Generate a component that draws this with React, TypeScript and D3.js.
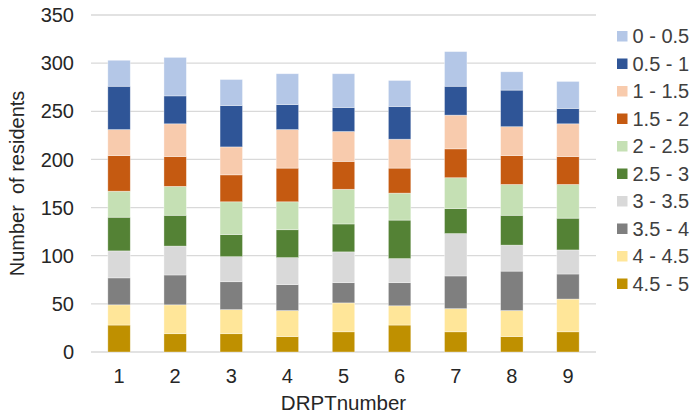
import React, { useEffect, useRef } from "react";
import * as d3 from "d3";

// DRPT numbers along the x axis
const categories = ["1", "2", "3", "4", "5", "6", "7", "8", "9"];

// Score bands, listed top of the stack first (legend order)
const bands = ["0 - 0.5", "0.5 - 1", "1 - 1.5", "1.5 - 2", "2 - 2.5", "2.5 - 3", "3 - 3.5", "3.5 - 4", "4 - 4.5", "4.5 - 5"];

// Residents per band, one value per DRPT number
const band0to05 = [27, 40, 27, 32, 35, 27, 36, 19, 28];
const band05to1 = [45, 29, 43, 26, 25, 34, 30, 38, 16];
const band1to15 = [27, 34, 29, 40, 31, 30, 35, 30, 34];
const band15to2 = [37, 31, 28, 35, 29, 26, 30, 30, 29];
const band2to25 = [27, 30, 34, 29, 36, 28, 32, 32, 35];
const band25to3 = [35, 32, 23, 29, 29, 40, 26, 31, 33];
const band3to35 = [28, 30, 26, 28, 32, 25, 44, 27, 25];
const band35to4 = [28, 31, 29, 27, 21, 24, 34, 41, 26];
const band4to45 = [21, 30, 25, 27, 30, 20, 24, 27, 34];
const band45to5 = [28, 19, 19, 16, 21, 28, 21, 16, 21];

const yTicks = [0, 50, 100, 150, 200, 250, 300, 350];

const colors = ["#B4C7E7", "#2F5597", "#F8CBAD", "#C55A11", "#C5E0B4", "#548235", "#D9D9D9", "#7F7F7F", "#FFE699", "#BF9000"];

const seriesValues = [band0to05, band05to1, band1to15, band15to2, band2to25, band25to3, band3to35, band35to4, band4to45, band45to5];

const W = 691;
const H = 417;
const FONT = "'Liberation Sans', Arial, sans-serif";

export default function App() {
  const ref = useRef<SVGSVGElement>(null);

  useEffect(() => {
    const svg = d3.select(ref.current);
    svg.selectAll("*").remove();

    const left = 91, right = 596, top = 15, bottom = 352;

    const rows = categories.map((c, i) => {
      const r: Record<string, any> = { cat: c };
      bands.forEach((b, j) => (r[b] = seriesValues[j][i]));
      return r;
    });

    // stack from the bottom band (4.5 - 5) upward
    const stackKeys = bands.slice().reverse();
    const stacked = d3.stack<any>().keys(stackKeys)(rows);

    const x = d3.scaleBand().domain(categories).range([left, right]).paddingInner(0.6).paddingOuter(0.3);
    const y = d3.scaleLinear().domain([0, 350]).range([bottom, top]);

    // gridlines
    svg.append("g")
      .selectAll("line")
      .data(yTicks)
      .join("line")
      .attr("x1", left)
      .attr("x2", right)
      .attr("y1", (d) => y(d))
      .attr("y2", (d) => y(d))
      .attr("stroke", "#D9D9D9")
      .attr("stroke-width", 1.3);

    // y tick labels
    svg.append("g")
      .selectAll("text")
      .data(yTicks)
      .join("text")
      .attr("x", 74)
      .attr("y", (d) => y(d))
      .attr("dy", "0.36em")
      .attr("text-anchor", "end")
      .attr("font-family", FONT)
      .attr("font-size", 20)
      .attr("fill", "#262626")
      .text((d) => String(d));

    // stacked bars
    svg.append("g")
      .selectAll("g")
      .data(stacked)
      .join("g")
      .attr("fill", (s) => colors[bands.indexOf(s.key)])
      .selectAll("rect")
      .data((s) => s)
      .join("rect")
      .attr("x", (d: any) => x(d.data.cat)!)
      .attr("width", x.bandwidth())
      .attr("y", (d) => y(d[1]))
      .attr("height", (d) => y(d[0]) - y(d[1]))
      .attr("stroke", "#ffffff")
      .attr("stroke-opacity", 0.5)
      .attr("stroke-width", 0.7);

    // x tick labels
    svg.append("g")
      .selectAll("text")
      .data(categories)
      .join("text")
      .attr("x", (d) => x(d)! + x.bandwidth() / 2)
      .attr("y", 383)
      .attr("text-anchor", "middle")
      .attr("font-family", FONT)
      .attr("font-size", 20)
      .attr("fill", "#262626")
      .text((d) => d);

    // axis titles
    svg.append("text")
      .attr("x", (left + right) / 2)
      .attr("y", 410)
      .attr("text-anchor", "middle")
      .attr("font-family", FONT)
      .attr("font-size", 20.5)
      .attr("fill", "#262626")
      .text("DRPTnumber");

    svg.append("text")
      .attr("transform", `translate(24, ${(top + bottom) / 2}) rotate(-90)`)
      .attr("text-anchor", "middle")
      .attr("font-family", FONT)
      .attr("font-size", 20)
      .attr("fill", "#262626")
      .attr("xml:space", "preserve")
      .style("white-space", "pre")
      .text("Number  of residents");

    // legend
    const legend = svg.append("g")
      .selectAll("g")
      .data(bands)
      .join("g")
      .attr("transform", (_, i) => `translate(617, ${36 + i * 27.5})`);

    legend.append("rect")
      .attr("x", 0)
      .attr("y", -5)
      .attr("width", 10.5)
      .attr("height", 10.5)
      .attr("fill", (_, i) => colors[i]);

    legend.append("text")
      .attr("x", 15.5)
      .attr("y", 0)
      .attr("dy", "0.36em")
      .attr("font-family", FONT)
      .attr("font-size", 20)
      .attr("fill", "#404040")
      .text((d) => d);
  }, []);

  return (
    <svg
      ref={ref}
      width={W}
      height={H}
      style={{ position: "absolute", left: 0, top: 0, background: "#fff" }}
    />
  );
}
